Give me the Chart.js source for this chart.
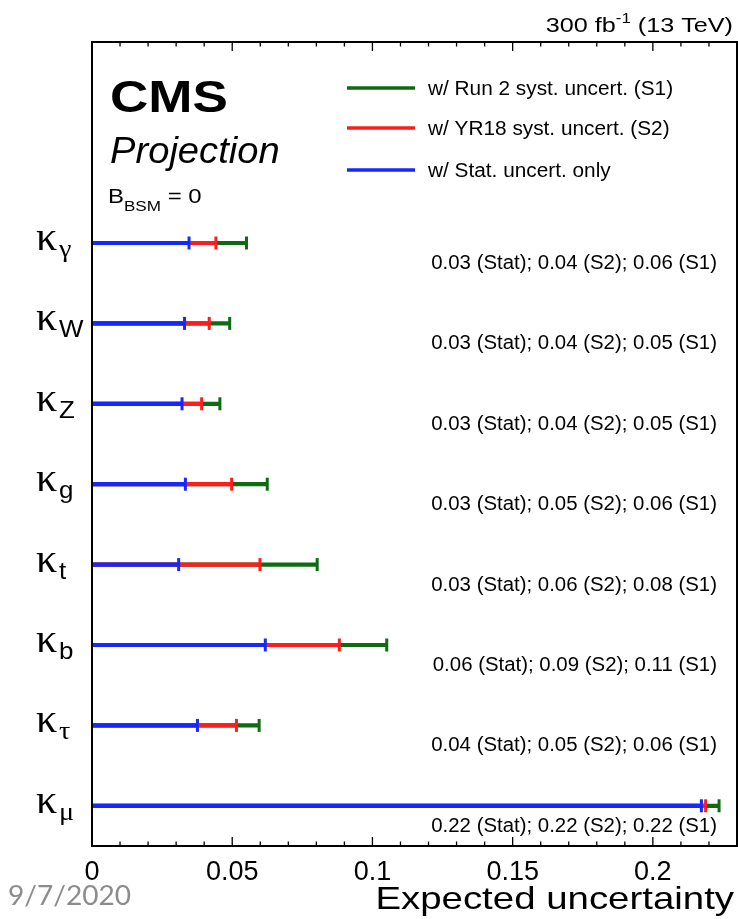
<!DOCTYPE html>
<html>
<head>
<meta charset="utf-8">
<script src="https://cdn.jsdelivr.net/npm/chart.js@4/dist/chart.umd.min.js"></script>
<style>
  html, body { margin: 0; padding: 0; background: #fff; }
  canvas { display: block; }
</style>
</head>
<body>
<canvas id="chart" width="738" height="919"></canvas>
<script>
// couplings, top to bottom
const couplings = ['γ', 'W', 'Z', 'g', 't', 'b', 'τ', 'μ'];
const greekSub = [true, false, false, false, false, false, true, true];

// expected uncertainties
const statOnly = [0.0346, 0.0330, 0.0321, 0.0333, 0.0309, 0.0618, 0.0376, 0.2173];
const yr18 = [0.0442, 0.0418, 0.0391, 0.0498, 0.0599, 0.0882, 0.0515, 0.2188];
const run2 = [0.0551, 0.0491, 0.0456, 0.0625, 0.0803, 0.1051, 0.0596, 0.2236];

const notes = [
  '0.03 (Stat); 0.04 (S2); 0.06 (S1)',
  '0.03 (Stat); 0.04 (S2); 0.05 (S1)',
  '0.03 (Stat); 0.04 (S2); 0.05 (S1)',
  '0.03 (Stat); 0.05 (S2); 0.06 (S1)',
  '0.03 (Stat); 0.06 (S2); 0.08 (S1)',
  '0.06 (Stat); 0.09 (S2); 0.11 (S1)',
  '0.04 (Stat); 0.05 (S2); 0.06 (S1)',
  '0.22 (Stat); 0.22 (S2); 0.22 (S1)'
];

const tickVals = [0, 0.05, 0.1, 0.15, 0.2];
const tickLabels = ['0', '0.05', '0.1', '0.15', '0.2'];
const legendLabels = ['w/ Run 2 syst. uncert. (S1)', 'w/ YR18 syst. uncert. (S2)', 'w/ Stat. uncert. only'];
const xMax = 0.23;

const GREEN = '#0e6b12';
const RED = '#ff1c1c';
const BLUE = '#1428ff';

// two empty slots above the first coupling (room for CMS label + legend)
const blankRows = ['', ''];
const rowLabels = blankRows.concat(couplings.map(c => 'κ' + c));
const pad = blankRows.map(() => null);

function capSet(vals, color) {
  return {
    type: 'scatter',
    data: vals.map((v, i) => ({ x: v, y: 'κ' + couplings[i] })),
    pointStyle: 'line',
    rotation: 90,
    radius: 6.5,
    borderWidth: 3,
    borderColor: color,
    backgroundColor: color,
    clip: false
  };
}

function barSet(vals, color) {
  return {
    type: 'bar',
    data: pad.concat(vals),
    backgroundColor: color,
    borderWidth: 0,
    barThickness: 3.5,
    grouped: false
  };
}

function stext(ctx, s, x, y, font, sx, align) {
  ctx.save();
  ctx.font = font;
  ctx.translate(x, y);
  ctx.scale(sx, 1);
  ctx.textAlign = align || 'left';
  ctx.textBaseline = 'alphabetic';
  ctx.fillText(s, 0, 0);
  ctx.restore();
}

function runs(ctx, parts, x, y, sx, align) {
  let w = 0;
  parts.forEach(p => {
    ctx.font = p.font;
    p.w = ctx.measureText(p.t).width * sx;
    w += p.w;
  });
  let cx = align === 'right' ? x - w : x;
  parts.forEach(p => {
    stext(ctx, p.t, cx, y + (p.dy || 0), p.font, sx);
    cx += p.w;
  });
}

const SANS = '"Liberation Sans", Arial, sans-serif';
const SERIF = '"Liberation Serif", "Times New Roman", serif';

const decor = {
  id: 'decor',
  afterDraw(chart) {
    const ctx = chart.ctx;
    const a = chart.chartArea;
    const xs = chart.scales.x;
    const ys = chart.scales.y;

    ctx.save();
    ctx.fillStyle = '#000';
    ctx.strokeStyle = '#000';

    // frame
    ctx.lineWidth = 2;
    ctx.strokeRect(a.left, a.top, a.right - a.left, a.bottom - a.top);

    // inward ticks top and bottom
    ctx.lineWidth = 1.3;
    for (let i = 0; i <= 23; i++) {
      const px = xs.getPixelForValue(i / 100);
      const len = i % 5 === 0 ? 9 : 4.5;
      ctx.beginPath();
      ctx.moveTo(px, a.bottom);
      ctx.lineTo(px, a.bottom - len);
      ctx.moveTo(px, a.top);
      ctx.lineTo(px, a.top + len);
      ctx.stroke();
    }

    // row labels and value notes
    couplings.forEach((c, i) => {
      const py = ys.getPixelForValue(i + blankRows.length);
      stext(ctx, 'κ', 36, py + 7, '40px ' + SERIF, 1.05);
      stext(ctx, c, 59, py + 14, greekSub[i] ? '26px ' + SERIF : '24px ' + SANS, 1.08);
      stext(ctx, notes[i], 717, py + 26, '20px ' + SANS, 1.02, 'right');
    });

    // CMS labels
    stext(ctx, 'CMS', 110, 112, 'bold 45px ' + SANS, 1.18);
    stext(ctx, 'Projection', 110, 163, 'italic 36px ' + SANS, 1.06);
    runs(ctx, [
      { t: 'B', font: '21px ' + SANS },
      { t: 'BSM', font: '15px ' + SANS, dy: 8 },
      { t: ' = 0', font: '21px ' + SANS }
    ], 108, 203, 1.14);

    // lumi label
    runs(ctx, [
      { t: '300 fb', font: '21px ' + SANS },
      { t: '-1', font: '14px ' + SANS, dy: -9 },
      { t: ' (13 TeV)', font: '21px ' + SANS }
    ], 733, 32, 1.2, 'right');

    // legend
    const legY = [88, 128, 170];
    const legC = [GREEN, RED, BLUE];
    legendLabels.forEach((t, k) => {
      ctx.strokeStyle = legC[k];
      ctx.lineWidth = 3.5;
      ctx.beginPath();
      ctx.moveTo(347, legY[k]);
      ctx.lineTo(415, legY[k]);
      ctx.stroke();
      stext(ctx, t, 428, legY[k] + 7, '20px ' + SANS, 1.04);
    });

    // axis title
    stext(ctx, 'Expected uncertainty', 734, 909, '32px ' + SANS, 1.2, 'right');

    // slide date
    ctx.fillStyle = '#8c8c8c';
    stext(ctx, '9/7/2020', 8, 905, '26px Lato, "Open Sans", sans-serif', 1.08);

    ctx.restore();
  }
};

new Chart(document.getElementById('chart'), {
  type: 'bar',
  data: {
    labels: rowLabels,
    datasets: [
      capSet(statOnly, BLUE),
      capSet(yr18, RED),
      capSet(run2, GREEN),
      barSet(statOnly, BLUE),
      barSet(yr18, RED),
      barSet(run2, GREEN)
    ]
  },
  options: {
    indexAxis: 'y',
    responsive: false,
    animation: false,
    events: [],
    layout: { autoPadding: false, padding: { left: 92, right: 1, top: 42, bottom: 0 } },
    plugins: { legend: { display: false }, tooltip: { enabled: false } },
    scales: {
      x: {
        type: 'linear',
        position: 'bottom',
        min: 0,
        max: xMax,
        grid: { display: false, drawTicks: false },
        border: { display: false },
        afterBuildTicks: s => { s.ticks = tickVals.map(v => ({ value: v })); },
        afterFit: s => { s.height = 73; s.paddingLeft = 0; s.paddingRight = 0; },
        ticks: {
          padding: 10,
          color: '#000',
          font: { family: 'Liberation Sans', size: 27 },
          callback: (v, i) => tickLabels[i]
        }
      },
      y: {
        type: 'category',
        display: false
      }
    }
  },
  plugins: [decor]
});
</script>
</body>
</html>
